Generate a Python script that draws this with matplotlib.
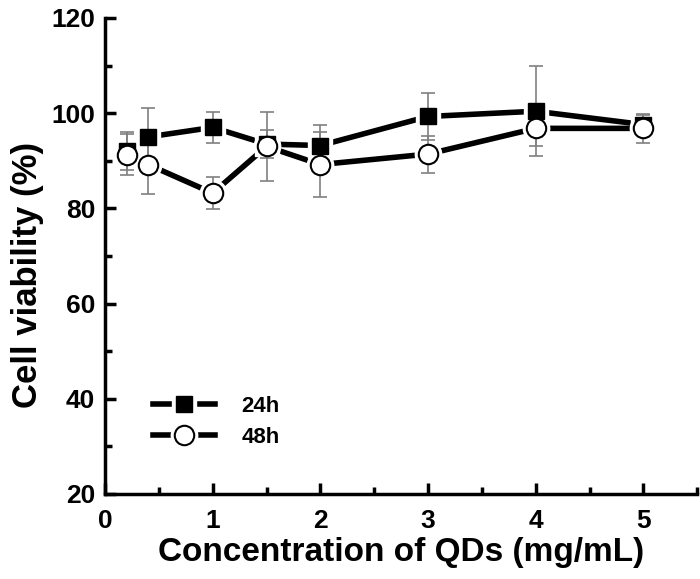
import matplotlib
matplotlib.use("Agg")
import matplotlib.pyplot as plt
from matplotlib.ticker import MultipleLocator
from matplotlib.legend_handler import HandlerTuple

plt.rcParams['font.family'] = ['Liberation Sans', 'DejaVu Sans']
plt.rcParams['font.weight'] = 'bold'

conc = [0.2, 0.4, 1, 1.5, 2, 3, 4, 5]
via_24h = [92.0, 95.0, 97.0, 93.5, 93.2, 99.3, 100.4, 97.6]
err_24h = [4.0, 6.0, 3.2, 3.0, 4.3, 5.0, 9.4, 2.0]
via_48h = [91.3, 89.2, 83.2, 93.0, 89.2, 91.4, 96.8, 96.8]
err_48h = [4.4, 6.2, 3.4, 7.3, 6.8, 3.9, 3.6, 3.0]

fig = plt.figure(figsize=(7.0, 5.79), dpi=100)
ax = fig.add_axes([0.15, 0.147, 0.846, 0.822])

# lines underneath
ax.plot(conc, via_24h, color='black', lw=4, zorder=1)
ax.plot(conc, via_48h, color='black', lw=4, zorder=1)

# white halos so the line breaks at each marker
ax.plot(conc, via_24h, ls='none', marker='s', ms=17, mfc='white', mec='white', zorder=2)
ax.plot(conc, via_48h, ls='none', marker='o', ms=19, mfc='white', mec='white', zorder=2)

ax.errorbar(conc, via_24h, yerr=err_24h, fmt='none', ecolor='#808080', elinewidth=1.2,
            capsize=5, capthick=1.2, zorder=3)
ax.errorbar(conc, via_48h, yerr=err_48h, fmt='none', ecolor='#808080', elinewidth=1.2,
            capsize=5, capthick=1.2, zorder=3)

ax.plot(conc, via_24h, ls='none', marker='s', ms=12, mfc='black', mec='black', zorder=4)
ax.plot(conc, via_48h, ls='none', marker='o', ms=14, mfc='white', mec='black', mew=1.5, zorder=5)

# legend handles: solid line broken around the marker
ln, = ax.plot([], [], color='black', lw=4)
halo_s, = ax.plot([], [], ls='none', marker='s', ms=17, mfc='white', mec='white')
halo_o, = ax.plot([], [], ls='none', marker='o', ms=19, mfc='white', mec='white')
mk_s, = ax.plot([], [], ls='none', marker='s', ms=12, mfc='black', mec='black')
mk_o, = ax.plot([], [], ls='none', marker='o', ms=14, mfc='white', mec='black', mew=1.5)
ax.legend([(ln, halo_s, mk_s), (ln, halo_o, mk_o)], ['24h', '48h'],
          handler_map={tuple: HandlerTuple(ndivide=1)},
          loc='lower left', bbox_to_anchor=(0.062, 0.073), frameon=False, fontsize=16,
          handlelength=2.8, handletextpad=1.2, labelspacing=0.45, borderpad=0)

ax.set_xlim(0, 5.5)
ax.set_ylim(20, 120)
ax.xaxis.set_major_locator(MultipleLocator(1))
ax.xaxis.set_minor_locator(MultipleLocator(0.5))
ax.yaxis.set_major_locator(MultipleLocator(20))
ax.yaxis.set_minor_locator(MultipleLocator(10))

for s in ['top', 'right']:
    ax.spines[s].set_visible(False)
for s in ['left', 'bottom']:
    ax.spines[s].set_linewidth(2.5)

ax.tick_params(which='major', direction='in', length=8, width=2.5, labelsize=19)
ax.tick_params(which='minor', direction='in', length=5, width=2.5)
ax.tick_params(axis='x', which='major', pad=11)
ax.tick_params(axis='y', which='major', pad=7)
for lab in ax.get_xticklabels() + ax.get_yticklabels():
    lab.set_fontweight('bold')

ax.set_xlabel('Concentration of QDs (mg/mL)', fontsize=24, fontweight='bold', labelpad=3)
ax.set_ylabel('Cell viability (%)', fontsize=25, fontweight='bold')
ax.yaxis.set_label_coords(-0.103, 0.46)

fig.savefig('out.png', dpi=100)
